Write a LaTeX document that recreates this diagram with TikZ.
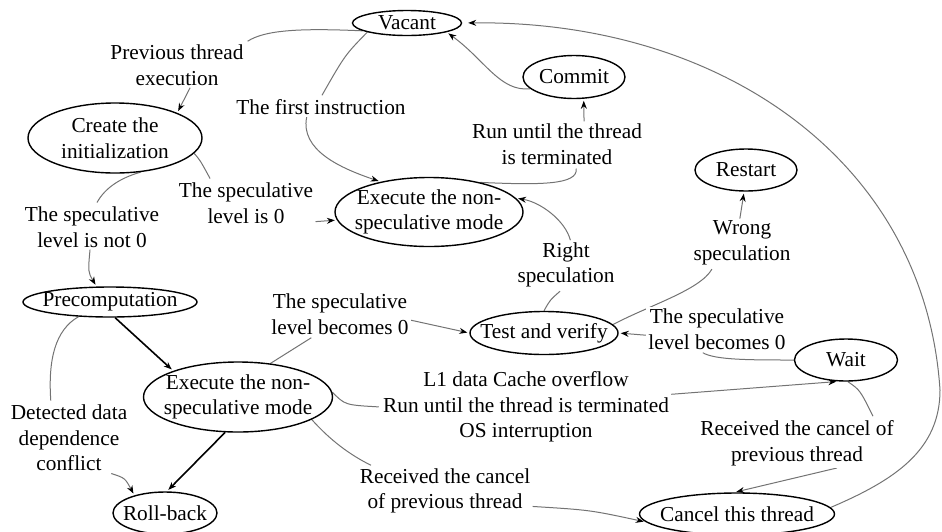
\documentclass[tikz,border=0pt]{standalone}
\usepackage{fontspec}
\setmainfont{Liberation Serif}
\usetikzlibrary{arrows.meta,shapes.geometric,backgrounds}

\begin{document}
\begin{tikzpicture}[x=0.5pt,y=-0.5pt,>={Stealth[black,length=4pt,width=3pt]},shorten >=1pt,
    font=\fontsize{10.65pt}{12.8pt}\selectfont,
    phase/.style={ellipse,draw,line width=0.7pt,fill=white,inner sep=0pt},
    cond/.style={align=center,inner sep=1pt,fill=white},
    link/.style={draw=black!55,line width=0.5pt},
    main link/.style={draw=black,line width=0.8pt}]

  \useasboundingbox (0,0) rectangle (942,531);

  % states
  \node[phase,minimum width=54.5pt,minimum height=12.5pt,label=center:Vacant] (vacant) at (407,23) {};
  \node[phase,minimum width=51pt,minimum height=21.5pt,label=center:Commit] (commit) at (574,77) {};
  \node[phase,minimum width=51pt,minimum height=21pt,label=center:Restart] (restart) at (746,170) {};
  \node[phase,minimum width=87pt,minimum height=35pt,
    label={[align=center]center:{Create the\\initialization}}] (create) at (115,138) {};
  \node[phase,minimum width=94pt,minimum height=34.5pt,
    label={[align=center]center:{Execute the non-\\speculative mode}}] (exectop) at (429,212) {};
  \node[phase,minimum width=87pt,minimum height=15pt,label=center:Precomputation] (precomp) at (110,302) {};
  \node[phase,minimum width=94.5pt,minimum height=35pt,
    label={[align=center]center:{Execute the non-\\speculative mode}}] (execbot) at (238,397) {};
  \node[phase,minimum width=52pt,minimum height=21pt,label=center:Roll-back] (rollback) at (165,513) {};
  \node[phase,minimum width=74pt,minimum height=21.5pt,label=center:Test and verify] (test) at (544,333) {};
  \node[phase,minimum width=51.5pt,minimum height=21pt,label=center:Wait] (wait) at (846,360) {};
  \node[phase,minimum width=97.5pt,minimum height=21pt,label=center:Cancel this thread] (cancel) at (737,514) {};

  % conditions
  \node[cond] (lprev) at (177,65) {Previous thread\\execution};
  \node[cond] (lfirst) at (321,107) {The first instruction};
  \node[cond] (lrun) at (557,144) {Run until the thread\\is terminated};
  \node[cond] (lzero) at (246,203) {The speculative\\level is 0};
  \node[cond] (lnotzero) at (92,227) {The speculative\\level is not 0};
  \node[cond] (lright) at (566,265) {Right\\speculation};
  \node[cond] (lwrong) at (742,243) {Wrong\\speculation};
  \node[cond] (lbecl) at (340,314) {The speculative\\level becomes 0};
  \node[cond] (lbecr) at (717,329) {The speculative\\level becomes 0};
  \node[cond] (lover) at (526,407) {L1 data Cache overflow\\Run until the thread is terminated\\OS interruption};
  \node[cond] (ldetect) at (69,438) {Detected data\\dependence\\conflict};
  \node[cond] (lcancl) at (445,491) {Received the cancel\\of previous thread};
  \node[cond] (lcancr) at (797,443) {Received the cancel of\\previous thread};

  \begin{scope}[on background layer]
    % vacant -> create
    \draw[link] (vacant.190) .. controls (300,28) and (265,30) .. (lprev.north east);
    \draw[link,->] (lprev.-60) -- (create.22);
    % vacant -> exectop
    \draw[link] (vacant.193) .. controls (345,55) .. (lfirst.north);
    \draw[link,->] (lfirst.215) .. controls (300,150) and (340,168) .. (exectop.148);
    % commit -> vacant
    \draw[link,->] (commit.195) .. controls (500,92) and (485,60) .. (vacant.-13);
    % exectop -> commit
    \draw[link] (exectop.30) .. controls (540,185) and (578,185) .. (lrun.-50);
    \draw[link,->] (lrun.40) -- (commit.-66);
    % create -> exectop
    \draw[link] (create.-11) .. controls (200,160) .. (lzero.147);
    \draw[link,->] (lzero.-15) -- (exectop.185);
    % create -> precomp
    \draw[link] (create.-53) .. controls (120,178) and (105,188) .. (lnotzero.80);
    \draw[link,->] (lnotzero.-95) .. controls (88,272) .. (precomp.131);
    % test -> exectop
    \draw[link] (test.north) .. controls (550,300) .. (lright.-100);
    \draw[link,->] (lright.80) .. controls (565,220) and (540,202) .. (exectop.9);
    % test -> restart
    \draw[link] (test.7) .. controls (650,305) and (700,290) .. (lwrong.-140);
    \draw[link,->] (lwrong.95) -- (restart.-95);
    % wait -> test
    \draw[link] (wait.west) .. controls (750,360) and (715,360) .. (lbecr.-125);
    \draw[link,->] (lbecr.185) -- (test.east);
    % execbot -> test
    \draw[link] (execbot.46) -- (lbecl.-140);
    \draw[link,->] (lbecl.-5) -- (test.west);
    % precomp -> execbot -> rollback
    \draw[main link,->] (precomp.-72) -- (execbot.158);
    \draw[main link,->] (execbot.-110) -- (rollback.85);
    % precomp -> rollback
    \draw[link] (precomp.-155) .. controls (55,330) and (48,360) .. (ldetect.117);
    \draw[link,->] (ldetect.-40) .. controls (125,478) .. (rollback.150);
    % execbot -> wait
    \draw[link] (execbot.3) .. controls (345,405) .. (lover.west);
    \draw[link,->] (lover.5) -- (wait.-110);
    % execbot -> cancel
    \draw[link] (execbot.-17) .. controls (330,440) and (350,455) .. (lcancl.161);
    \draw[link,->] (lcancl.-10) .. controls (590,510) .. (cancel.185);
    % wait -> cancel
    \draw[link] (wait.-85) .. controls (860,390) .. (lcancr.18);
    \draw[link,->] (lcancr.-32) -- (cancel.97);
    % cancel -> vacant
    \draw[link,->,shorten >=3pt] (cancel.4) .. controls (895,480) and (940,450) .. (940,390)
      .. controls (925,160) and (720,20) .. (vacant.east);
  \end{scope}

\end{tikzpicture}
\end{document}
